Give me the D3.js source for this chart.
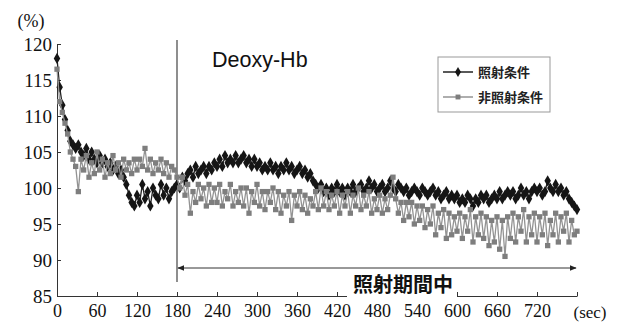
<!DOCTYPE html>
<html><head><meta charset="utf-8">
<script src="https://cdn.jsdelivr.net/npm/d3@7"></script>
<style>
body{margin:0;background:#fff;}
svg{display:block;}
</style></head>
<body>
<svg id="chart" width="617" height="322"></svg>
<script>
// ---- data ----
const timeStep = 4; // seconds between samples
const seriesNames = ["照射条件", "非照射条件"];
const irradiated = [
 118,114,111.5,109.5,108,106.5,106,105.5,106,105,
 104.5,105.5,104,105,104,103.5,104.5,103.5,104,103,
 103.5,102.5,103,102,102.5,101.5,100.5,99,98,97.5,
 99,98,100.5,98.5,99.5,97.5,100,99,98.5,100.5,
 99,100,98.5,99.5,100,100.5,100,101.5,101,102,
 102.5,101.5,103,102,102.5,103,102,103,102.5,103.5,
 103,104,103,104.5,103.5,104,103.5,104.5,103.5,104,
 104.5,103.5,104,103,104,103,103.5,102.5,103,102.5,
 103.5,102.5,103,102,103,102.5,103.5,102.5,103,102,
 102.5,103,102,102.5,101.5,102,101,100.5,100,100.5,
 99.5,100,99,100,99.5,100.5,99.5,100,99,100,
 99.5,100.5,99.5,100,100.5,99.5,100,101,100,100.5,
 99.5,100,100.5,99.5,100,101,100,99.5,100.5,100,
 99.5,100,99,99.5,100,99.5,99,100,99.5,99,
 99.5,100,99,99.5,98.5,99,99.5,98.5,99,98.5,
 99,98,98.5,98,99,98.5,97.5,98.5,98,99,
 98.5,99,98,98.5,99,98.5,99.5,98.5,99,99.5,
 99,99.5,98.5,99,100,99,99.5,98.5,99.5,100,
 99.5,100,99,99.5,101,100,99.5,100.5,99.5,100,
 99,99.5,98.5,98,97.5,97
];
const nonIrradiated = [
 116.5,112,110.5,109,107.5,105,104,103,99.5,104,
 102.5,104.5,101.5,103.5,102,105,102.5,104,101.5,103.5,
 102,104.5,102.5,103.5,101.5,104,102.5,103.5,102,104,
 102.5,104,103,105.5,102.5,104,102,103.5,102.5,104,
 102,103.5,101.5,103,102.5,101.5,100,101.5,99,100.5,
 96.5,99.5,98,100.5,98.5,100,97.5,100.5,98,100,
 98,100.5,97.5,99.5,98.5,100.5,97.5,99.5,98,100,
 97.5,100,96.5,99.5,98,100.5,97.5,99.5,97,99.5,
 98,100,97,99.5,96.5,99,97.5,99.5,95.5,99,
 97.5,99.5,97,99,96.5,98.5,97.5,99.5,97,100,
 97.5,99.5,97,99,97.5,99.5,96.5,99,97.5,99.5,
 96.5,99,97.5,100,97,99,97.5,99.5,96.5,98.5,
 97,99,96.5,98.5,97,99,101.5,98.5,96.5,98,
 95.5,98,96,98,95,97.5,95.5,97.5,94.5,97,
 95,97.5,93.5,96.5,94.5,97,93,96.5,93.5,96,
 94,96.5,93,96,94,97,92.5,96,93.5,96.5,
 93,96,92,95.5,92.5,96,91.5,95.5,90.5,96,
 93,96.5,92.5,96,94,97,92.5,96,93.5,96.5,
 92.5,96,93.5,96.5,92,95.5,93.5,96.5,92.5,96,
 94,96.5,92.5,95.5,93.5,94
];
const yTicks = [85,90,95,100,105,110,115,120];
const xTicks = [0,60,120,180,240,300,360,420,480,540,600,660,720,780];
const xTickLabels = ["0","60","120","180","240","300","360","420","480","540","600","660","720",""];
const title = "Deoxy-Hb";
const periodLabel = "照射期間中";
const periodStart = 180, periodEnd = 780;

// ---- layout ----
const svg = d3.select("#chart");
const x = d3.scaleLinear().domain([0,780]).range([57,577]);
const y = d3.scaleLinear().domain([85,120]).range([296,44]);
const serif = "'Liberation Serif','DejaVu Serif',serif";

// y axis
const yAxis = svg.append("g").attr("transform","translate(57,0)")
  .call(d3.axisLeft(y).tickValues(yTicks).tickSizeInner(-4).tickSizeOuter(0).tickPadding(5));
yAxis.selectAll("text").attr("font-family",serif).attr("font-size",19).attr("fill","#111");
yAxis.selectAll("line,path").attr("stroke","#333");

// x axis
const xAxis = svg.append("g").attr("transform","translate(0,296)")
  .call(d3.axisBottom(x).tickValues(xTicks).tickFormat((d,i)=>xTickLabels[i]).tickSizeInner(-4).tickSizeOuter(0).tickPadding(8));
xAxis.selectAll("text").attr("font-family",serif).attr("font-size",18).attr("fill","#111");
xAxis.selectAll("line,path").attr("stroke","#333");

svg.append("text").attr("x",590).attr("y",318).attr("text-anchor","middle")
  .attr("font-family",serif).attr("font-size",17).attr("fill","#111").text("(sec)");
svg.append("text").attr("x",31).attr("y",27).attr("text-anchor","middle")
  .attr("font-family",serif).attr("font-size",18).attr("fill","#111").text("(%)");

// vertical marker line at start of irradiation
svg.append("line").attr("x1",x(periodStart)).attr("x2",x(periodStart))
  .attr("y1",40).attr("y2",282).attr("stroke","#444").attr("stroke-width",1.2);

// series
function drawSeries(vals, color, lineColor, shape, size){
  const pts = vals.map((v,i)=>[i*timeStep, v]);
  svg.append("path").datum(pts)
    .attr("d", d3.line().x(d=>x(d[0])).y(d=>y(d[1])))
    .attr("fill","none").attr("stroke",lineColor).attr("stroke-width",1.3);
  svg.append("g").selectAll("path").data(pts).join("path")
    .attr("transform",d=>`translate(${x(d[0])},${y(d[1])})`)
    .attr("d", d3.symbol().type(shape).size(size)())
    .attr("fill",color);
}
drawSeries(irradiated, "#151515", "#222", d3.symbolDiamond, 36);
drawSeries(nonIrradiated, "#7e7e7e", "#939393", d3.symbolSquare, 28);

// title
svg.append("text").attr("x",212).attr("y",67).attr("font-family","'Liberation Sans',Arial,sans-serif")
  .attr("font-size",21.5).attr("fill","#111").text(title);

// double arrow for irradiation period
const defs = svg.append("defs");
defs.append("marker").attr("id","ah").attr("viewBox","0 0 10 10").attr("refX",9).attr("refY",5)
  .attr("markerWidth",7).attr("markerHeight",7).attr("orient","auto-start-reverse")
  .append("path").attr("d","M0,1L10,5L0,9Z").attr("fill","#222");
svg.append("line").attr("x1",x(periodStart)+1).attr("x2",x(periodEnd)-1).attr("y1",268).attr("y2",268)
  .attr("stroke","#333").attr("stroke-width",1)
  .attr("marker-start","url(#ah)").attr("marker-end","url(#ah)");

// period label with white background
svg.append("rect").attr("x",347).attr("y",272).attr("width",110).attr("height",26).attr("fill","#fff");
svg.append("text").attr("x",403).attr("y",292).attr("text-anchor","middle")
  .attr("font-family","'Noto Sans CJK JP','Noto Sans CJK SC',sans-serif").attr("font-weight","bold")
  .attr("font-size",20).attr("fill","#111").text(periodLabel);

// legend
const lg = svg.append("g");
lg.append("rect").attr("x",438).attr("y",57).attr("width",112).attr("height",55)
  .attr("fill","#fff").attr("stroke","#999").attr("stroke-width",1);
const legendItems = [
  {name: seriesNames[0], color:"#151515", line:"#222", shape:d3.symbolDiamond, size:30, y:72},
  {name: seriesNames[1], color:"#7e7e7e", line:"#939393", shape:d3.symbolSquare, size:24, y:97}
];
legendItems.forEach(it=>{
  lg.append("line").attr("x1",443).attr("x2",473).attr("y1",it.y).attr("y2",it.y).attr("stroke",it.line).attr("stroke-width",1.5);
  lg.append("path").attr("transform",`translate(458,${it.y})`).attr("d",d3.symbol().type(it.shape).size(it.size)()).attr("fill",it.color);
  lg.append("text").attr("x",478).attr("y",it.y+5).attr("font-family","'Noto Sans CJK JP',sans-serif")
    .attr("font-weight","bold").attr("font-size",13).attr("fill","#222").text(it.name);
});
</script>
</body></html>
